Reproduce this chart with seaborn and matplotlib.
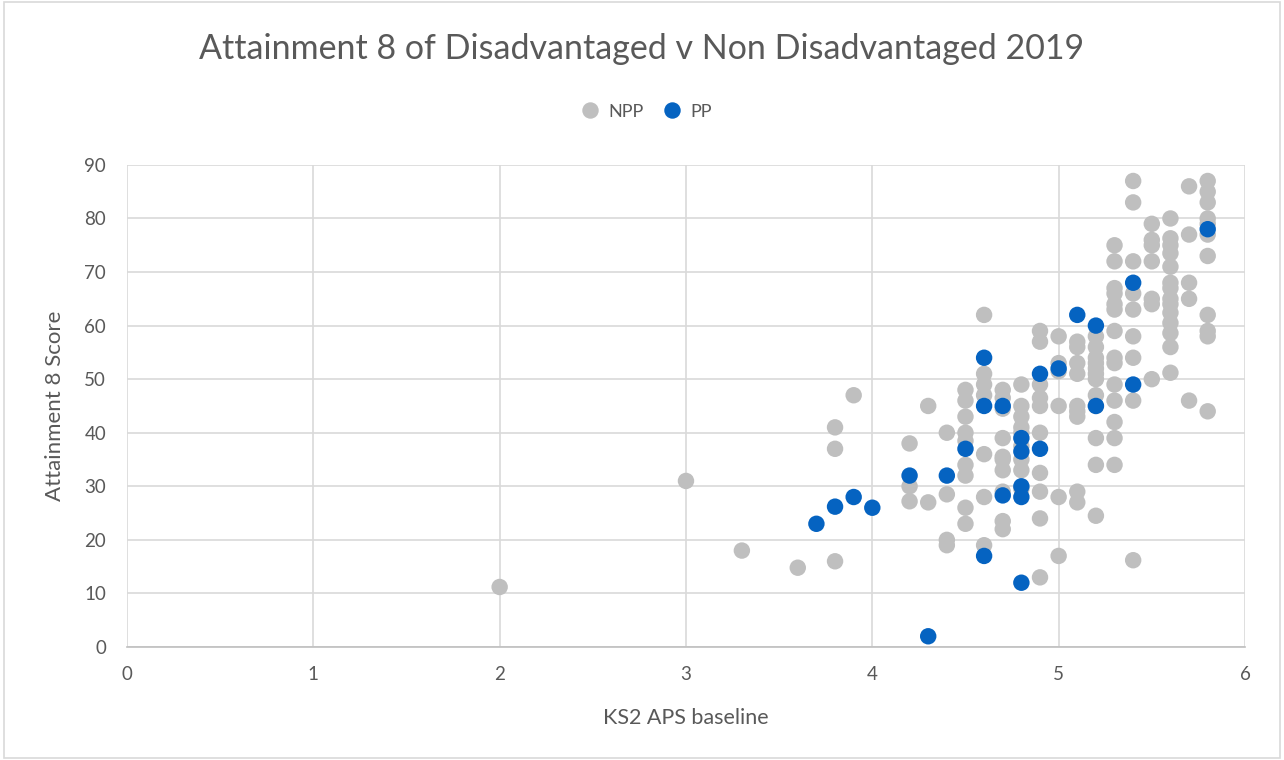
import matplotlib
matplotlib.use("Agg")
import matplotlib.pyplot as plt
import seaborn as sns
import pandas as pd

# NPP data (KS2 APS baseline, Attainment 8 score)
npp_x = ([2.0] + [3.0] + [3.3] + [3.6] + [3.8]*3 + [3.9] + [4.2]*3 + [4.3]*2 + [4.4]*4
         + [4.5]*9 + [4.6]*7 + [4.7]*10 + [4.8]*9 + [4.9]*10 + [5.0]*6 + [5.1]*9
         + [5.2]*12 + [5.3]*14 + [5.4]*9 + [5.5]*7 + [5.6]*14 + [5.7]*5 + [5.8]*11)
npp_y = ([11.2] + [31] + [18] + [14.8] + [41, 37, 16] + [47] + [38, 30, 27.2] + [45, 27]
         + [40, 28.5, 20, 19]
         + [48, 46, 43, 40, 38.5, 34, 32, 26, 23]
         + [62, 51, 49, 47, 36, 28, 19]
         + [48, 46.5, 44.5, 39, 35.5, 35, 33, 29, 23.5, 22]
         + [49, 45, 43, 41, 40, 37.5, 35, 33, 29.5]
         + [59, 57, 49, 46.5, 45, 40, 32.5, 29, 24, 13]
         + [58, 53, 51.5, 45, 28, 17]
         + [57, 56, 53, 51, 45, 44, 43, 29, 27]
         + [58, 56, 54, 53, 52, 51, 50, 47, 45, 39, 34, 24.5]
         + [75, 72, 67, 66, 64, 63, 59, 54, 53, 49, 46, 42, 39, 34]
         + [87, 83, 72, 66, 63, 58, 54, 46, 16.2]
         + [79, 76, 75, 72, 65, 64, 50]
         + [80, 76.3, 75, 73.5, 71, 68, 67, 65, 64, 62.4, 60.5, 58.6, 56, 51.2]
         + [86, 77, 68, 65, 46]
         + [87, 85, 83, 80, 79, 77, 73, 62, 59, 58, 44])

# PP data
pp_x = [3.7, 3.8, 3.9, 4.0, 4.2, 4.3, 4.4, 4.5, 4.6, 4.6, 4.6, 4.7, 4.7,
        4.8, 4.8, 4.8, 4.8, 4.8, 4.9, 4.9, 5.0, 5.1, 5.2, 5.2, 5.4, 5.4, 5.8]
pp_y = [23, 26.2, 28, 26, 32, 2, 32, 37, 54, 45, 17, 45, 28.3,
        39, 36.5, 30, 28, 12, 51, 37, 52, 62, 60, 45, 68, 49, 78]

groups = ["NPP", "PP"]
colors = ["#BFBFBF", "#0563C1"]

df = pd.DataFrame({
    "x": npp_x + pp_x,
    "y": npp_y + pp_y,
    "group": ["NPP"] * len(npp_x) + ["PP"] * len(pp_x),
})

sns.set_style("white")
plt.rcParams['font.family'] = ['Lato', 'DejaVu Sans']

fig = plt.figure(figsize=(12.84, 7.6), dpi=100)
ax = fig.add_axes([0.0989, 0.1487, 0.9696 - 0.0989, 0.783 - 0.1487])

sns.scatterplot(data=df, x="x", y="y", hue="group", hue_order=groups,
                palette=colors, s=140, edgecolor="none", linewidth=0, ax=ax,
                legend=True, zorder=3)

ax.set_xlim(0, 6)
ax.set_ylim(0, 90)
ax.set_xticks(range(0, 7))
ax.set_yticks(range(0, 91, 10))
ax.grid(True, color="#D9D9D9", linewidth=1.2)
ax.set_axisbelow(True)
for s in ["top", "right", "left"]:
    ax.spines[s].set_visible(False)
ax.spines["bottom"].set_color("#BFBFBF")
ax.spines["bottom"].set_linewidth(1.2)
ax.tick_params(axis="both", length=0, labelsize=13.5, labelcolor="#595959")
ax.tick_params(axis="x", pad=14)
ax.tick_params(axis="y", pad=15)

ax.set_xlabel("KS2 APS baseline", fontsize=15.5, color="#595959", labelpad=18)
ax.set_ylabel("Attainment 8 Score", fontsize=16, color="#595959", labelpad=14)

fig.text(0.5, 0.935, "Attainment 8 of Disadvantaged v Non Disadvantaged 2019",
         ha="center", va="center", fontsize=24.5, color="#595959")

leg = ax.legend(loc="center", frameon=False,
                ncol=2, fontsize=13, handletextpad=0.0, columnspacing=0.6,
                markerscale=1.0)
leg.set_bbox_to_anchor((0.5, 0.853), transform=fig.transFigure)
for t in leg.get_texts():
    t.set_color("#595959")

# outer chart border
fig.patches.append(plt.Rectangle((0.003, 0.003), 0.994, 0.994, transform=fig.transFigure,
                                 fill=False, edgecolor="#D9D9D9", linewidth=1.2))

fig.savefig("out.png", dpi=100)
